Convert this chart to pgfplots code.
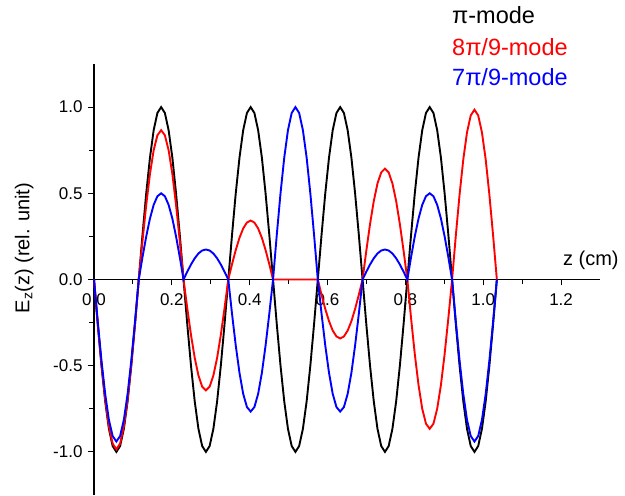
\documentclass[border=0pt]{standalone}
\usepackage{fontspec}
\setmainfont{Liberation Sans}
\usepackage{pgfplots}
\usepackage{pgfplotstable}
\pgfplotsset{compat=1.18}

\pgfplotstableread{
z b r u
0 0 0 0
0.0096 -0.2588 -0.2549 -0.2433
0.0192 -0.5 -0.4925 -0.47
0.0288 -0.7071 -0.6965 -0.6647
0.0383 -0.866 -0.853 -0.814
0.0479 -0.9659 -0.9514 -0.9079
0.0575 -1 -0.985 -0.94
0.0671 -0.9659 -0.9514 -0.9079
0.0767 -0.866 -0.853 -0.814
0.0863 -0.7071 -0.6965 -0.6647
0.0958 -0.5 -0.4925 -0.47
0.1054 -0.2588 -0.2549 -0.2433
0.115 0 0 0
0.1246 0.2588 0.2241 0.1294
0.1342 0.5 0.433 0.25
0.1438 0.7071 0.6124 0.3536
0.1533 0.866 0.75 0.433
0.1629 0.9659 0.8365 0.483
0.1725 1 0.866 0.5
0.1821 0.9659 0.8365 0.483
0.1917 0.866 0.75 0.433
0.2013 0.7071 0.6124 0.3536
0.2108 0.5 0.433 0.25
0.2204 0.2588 0.2241 0.1294
0.23 0 0 0
0.2396 -0.2588 -0.1664 0.045
0.2492 -0.5 -0.3215 0.087
0.2588 -0.7071 -0.4547 0.123
0.2683 -0.866 -0.5568 0.1507
0.2779 -0.9659 -0.6211 0.1681
0.2875 -1 -0.643 0.174
0.2971 -0.9659 -0.6211 0.1681
0.3067 -0.866 -0.5568 0.1507
0.3163 -0.7071 -0.4547 0.123
0.3258 -0.5 -0.3215 0.087
0.3354 -0.2588 -0.1664 0.045
0.345 0 0 0
0.3546 0.2588 0.0885 -0.1982
0.3642 0.5 0.171 -0.383
0.3738 0.7071 0.2418 -0.5416
0.3833 0.866 0.2962 -0.6634
0.3929 0.9659 0.3303 -0.7399
0.4025 1 0.342 -0.766
0.4121 0.9659 0.3303 -0.7399
0.4217 0.866 0.2962 -0.6634
0.4313 0.7071 0.2418 -0.5416
0.4408 0.5 0.171 -0.383
0.4504 0.2588 0.0885 -0.1982
0.46 0 0 0
0.4696 -0.2588 0 0.2588
0.4792 -0.5 0 0.5
0.4888 -0.7071 0 0.7071
0.4983 -0.866 0 0.866
0.5079 -0.9659 0 0.9659
0.5175 -1 0 1
0.5271 -0.9659 0 0.9659
0.5367 -0.866 0 0.866
0.5463 -0.7071 0 0.7071
0.5558 -0.5 0 0.5
0.5654 -0.2588 0 0.2588
0.575 0 0 0
0.5846 0.2588 -0.0885 -0.1982
0.5942 0.5 -0.171 -0.383
0.6038 0.7071 -0.2418 -0.5416
0.6133 0.866 -0.2962 -0.6634
0.6229 0.9659 -0.3303 -0.7399
0.6325 1 -0.342 -0.766
0.6421 0.9659 -0.3303 -0.7399
0.6517 0.866 -0.2962 -0.6634
0.6613 0.7071 -0.2418 -0.5416
0.6708 0.5 -0.171 -0.383
0.6804 0.2588 -0.0885 -0.1982
0.69 0 0 0
0.6996 -0.2588 0.1664 0.045
0.7092 -0.5 0.3215 0.087
0.7188 -0.7071 0.4547 0.123
0.7283 -0.866 0.5568 0.1507
0.7379 -0.9659 0.6211 0.1681
0.7475 -1 0.643 0.174
0.7571 -0.9659 0.6211 0.1681
0.7667 -0.866 0.5568 0.1507
0.7763 -0.7071 0.4547 0.123
0.7858 -0.5 0.3215 0.087
0.7954 -0.2588 0.1664 0.045
0.805 0 0 0
0.8146 0.2588 -0.2241 0.1294
0.8242 0.5 -0.433 0.25
0.8338 0.7071 -0.6124 0.3536
0.8433 0.866 -0.75 0.433
0.8529 0.9659 -0.8365 0.483
0.8625 1 -0.866 0.5
0.8721 0.9659 -0.8365 0.483
0.8817 0.866 -0.75 0.433
0.8913 0.7071 -0.6124 0.3536
0.9008 0.5 -0.433 0.25
0.9104 0.2588 -0.2241 0.1294
0.92 0 0 0
0.9296 -0.2588 0.2549 -0.2433
0.9392 -0.5 0.4925 -0.47
0.9488 -0.7071 0.6965 -0.6647
0.9583 -0.866 0.853 -0.814
0.9679 -0.9659 0.9514 -0.9079
0.9775 -1 0.985 -0.94
0.9871 -0.9659 0.9514 -0.9079
0.9967 -0.866 0.853 -0.814
1.0063 -0.7071 0.6965 -0.6647
1.0158 -0.5 0.4925 -0.47
1.0254 -0.2588 0.2549 -0.2433
1.035 0 0 0
}\modes

\begin{document}
\begin{tikzpicture}
\useasboundingbox (0pt,0pt) rectangle (625pt,496pt);
\begin{axis}[
  at={(94pt,1pt)}, anchor=south west,
  scale only axis, width=506pt, height=431pt,
  xmin=0, xmax=1.3, ymin=-1.25, ymax=1.25,
  axis lines=middle,
  axis line style={-, line width=1.2pt, black},
  hide obscured x ticks=false, hide obscured y ticks=false,
  xtick={0,0.2,0.4,0.6,0.8,1.0,1.2},
  ytick={-1,-0.5,0,0.5,1},
  minor x tick num=1, minor y tick num=1,
  tick align=outside,
  major tick length=6pt, minor tick length=4.5pt,
  every tick/.style={black, line width=1.1pt},
  /pgf/number format/.cd, fixed, fixed zerofill, precision=1, assume math mode=true,
  /pgfplots/.cd,
  tick label style={font=\fontsize{17}{17}\selectfont, black},
  xticklabel style={yshift=-5pt},
  yticklabel style={xshift=-2pt},
  xlabel={z (cm)},
  ylabel={E\textsubscript{z}(z) (rel. unit)},
  every axis x label/.style={at={(axis description cs:0.982,0.545)}, anchor=center, font=\fontsize{20}{20}\selectfont},
  every axis y label/.style={at={(axis description cs:-0.138,0.573)}, anchor=center, rotate=90, font=\fontsize{20}{20}\selectfont},
  clip=false,
]
\addplot[black, line width=1.9pt] table[x=z, y=b] {\modes};
\addplot[red, line width=1.9pt] table[x=z, y=r] {\modes};
\addplot[blue, line width=1.9pt] table[x=z, y=u] {\modes};
\end{axis}
\node[anchor=west, inner sep=0pt, font=\fontsize{23.5}{23.5}\selectfont, black] at (452pt,481pt) {π-mode};
\node[anchor=west, inner sep=0pt, font=\fontsize{23.5}{23.5}\selectfont, red] at (452pt,449pt) {8π/9-mode};
\node[anchor=west, inner sep=0pt, font=\fontsize{23.5}{23.5}\selectfont, blue] at (452pt,419pt) {7π/9-mode};
\end{tikzpicture}
\end{document}
